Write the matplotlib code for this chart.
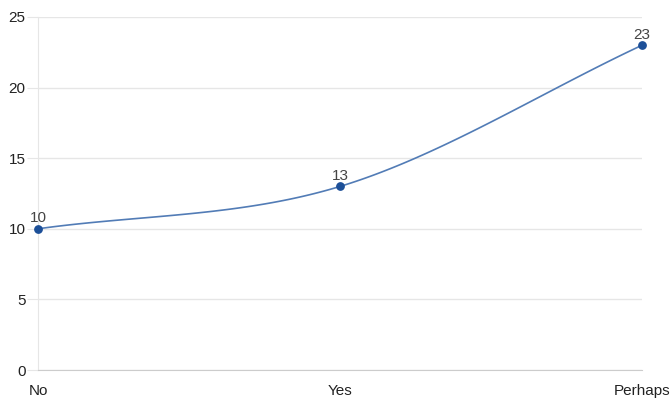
import numpy as np
import matplotlib.pyplot as plt

# datos
categorias = ["No", "Yes", "Perhaps"]
valores = [10, 13, 23]
yticks = [0, 5, 10, 15, 20, 25]

LINEA = "#527cb6"
PUNTO = "#1c4f98"
GRIS = "#e6e6e6"

plt.rcParams["font.family"] = ["Liberation Sans", "DejaVu Sans"]


def monotone_cubic(x, y, n=60):
    """Curva suave (Fritsch-Carlson) entre los puntos dados."""
    x = np.asarray(x, float)
    y = np.asarray(y, float)
    d = np.diff(y) / np.diff(x)
    m = np.empty_like(y)
    m[0], m[-1] = d[0], d[-1]
    m[1:-1] = (d[:-1] + d[1:]) / 2
    for i in range(len(d)):
        if d[i] == 0:
            m[i] = m[i + 1] = 0
    xs, ys = [], []
    for i in range(len(d)):
        h = x[i + 1] - x[i]
        t = np.linspace(0, 1, n)
        h00 = 2 * t**3 - 3 * t**2 + 1
        h10 = t**3 - 2 * t**2 + t
        h01 = -2 * t**3 + 3 * t**2
        h11 = t**3 - t**2
        xs.append(x[i] + t * h)
        ys.append(h00 * y[i] + h10 * h * m[i] + h01 * y[i + 1] + h11 * h * m[i + 1])
    return np.concatenate(xs), np.concatenate(ys)


fig = plt.figure(figsize=(6.71, 3.99), dpi=100)
ax = fig.add_axes([38 / 671, 29 / 399, 604 / 671, 353 / 399])

xpos = np.arange(len(categorias))
cx, cy = monotone_cubic(xpos, valores)
ax.plot(cx, cy, color=LINEA, linewidth=1.2, zorder=3, clip_on=False)
ax.scatter(xpos, valores, s=28, color=PUNTO, zorder=4, clip_on=False)

for xi, v in zip(xpos, valores):
    ax.annotate(str(v), (xi, v), xytext=(0, 2.5), textcoords="offset points",
                ha="center", va="bottom", fontsize=11, color="#444444")

ax.set_xlim(0, len(categorias) - 1)
ax.set_ylim(0, 25)
ax.set_yticks(yticks)
ax.set_xticks(xpos)
ax.set_xticklabels(categorias)
ax.grid(axis="y", color=GRIS, linewidth=1)
ax.set_axisbelow(True)

for s in ["top", "right"]:
    ax.spines[s].set_visible(False)
ax.spines["left"].set_color(GRIS)
ax.spines["bottom"].set_color("#cccccc")

ax.tick_params(axis="y", length=8, color=GRIS, labelsize=11, labelcolor="#222222", pad=1)
ax.tick_params(axis="x", length=0, labelsize=11, labelcolor="#222222", pad=10)

fig.savefig("out.png", dpi=100, facecolor="white")
